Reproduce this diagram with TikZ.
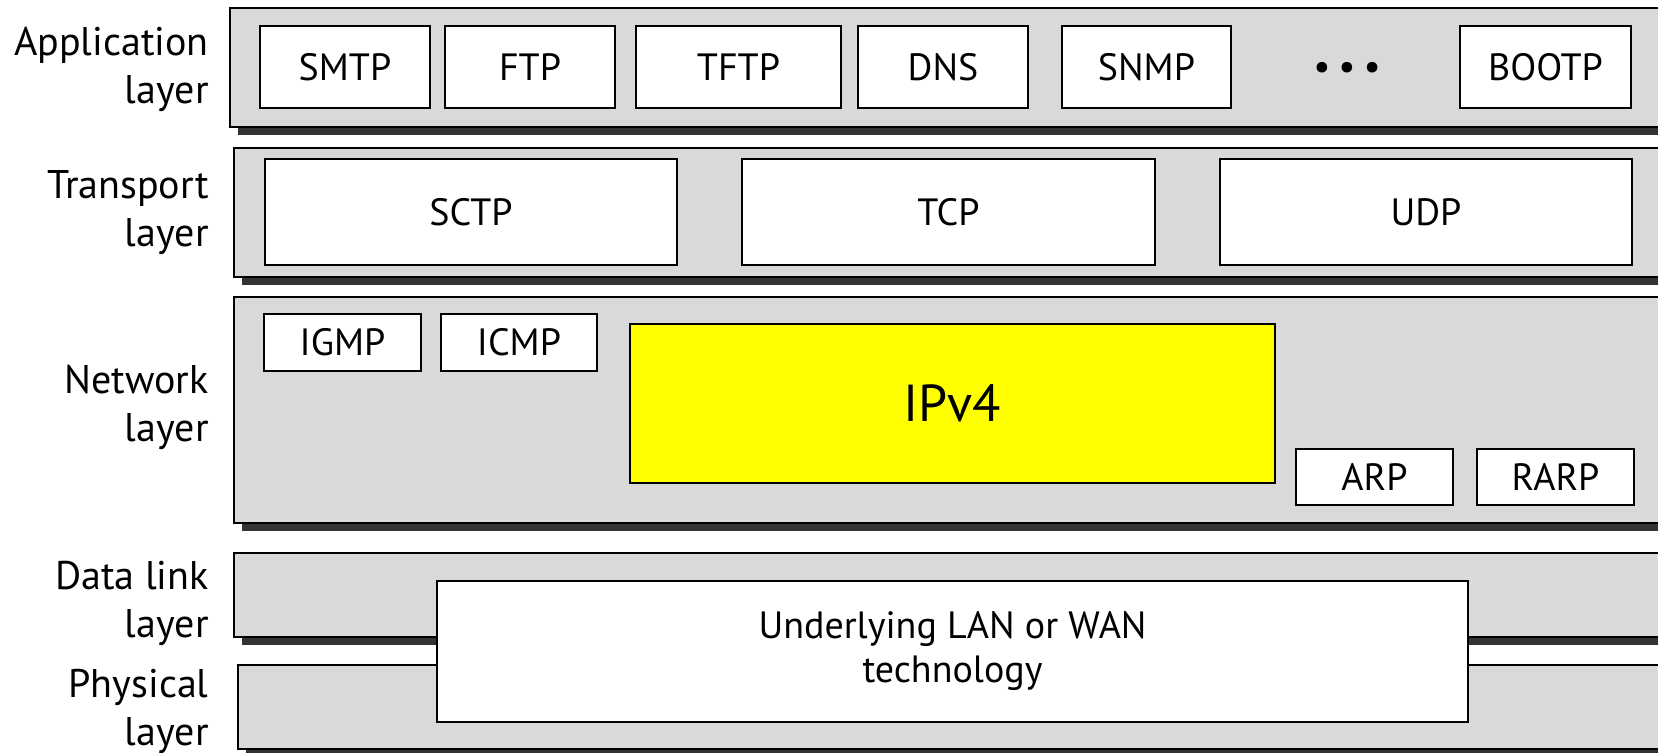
\documentclass[tikz,border=0pt]{standalone}
\usepackage{fontspec}
\setmainfont{PT Sans}
\usetikzlibrary{shadows}
\definecolor{layergray}{HTML}{D9D9D9}
\definecolor{shadowgray}{HTML}{333333}
\definecolor{ipyellow}{HTML}{FFFF00}
\tikzset{
  layer/.style={draw, fill=layergray, line width=1.1pt, inner sep=0pt, outer sep=0pt,
    drop shadow={shadow xshift=4pt, shadow yshift=-4pt, fill=shadowgray, opacity=1}},
  proto/.style={draw, fill=white, line width=1.2pt, inner sep=0pt, outer sep=0pt,
    align=center, font=\fontsize{19}{22}\selectfont},
  ipbox/.style={proto, fill=ipyellow, font=\fontsize{26}{30}\selectfont},
  layername/.style={anchor=east, align=right, inner sep=0pt, font=\fontsize{20}{24}\selectfont}
}
% style, name, x1, y1, x2, y2 (pixels, y down), text
\newcommand{\boxnode}[7]{%
  \node[#1, minimum width={(#5-#3)*0.5pt}, minimum height={(#6-#4)*0.5pt}]
    (#2) at ({(#3+#5)/2},{(#4+#6)/2}) {#7};}

\begin{document}
\begin{tikzpicture}[x=0.5pt, y=-0.5pt]
  \clip (0,0) rectangle (1658,753);

  % layers
  \boxnode{layer}{app}{230}{8}{1700}{127}{}
  \boxnode{layer}{trans}{234}{148}{1700}{277}{}
  \boxnode{layer}{net}{234}{297}{1700}{523}{}
  \boxnode{layer}{dlink}{234}{553}{1700}{637}{}
  \boxnode{layer}{phys}{238}{665}{1700}{749}{}

  \node[layername] (appname) at (209,69) {Application\\layer};
  \node[layername] (transname) at (209,213) {Transport\\layer};
  \node[layername] (netname) at (209,407) {Network\\layer};
  \node[layername] (dlinkname) at (209,603) {Data link\\layer};
  \node[layername] (physname) at (209,711) {Physical\\layer};

  % application layer
  \boxnode{proto}{smtp}{260}{26}{430}{108}{SMTP}
  \boxnode{proto}{ftp}{445}{26}{615}{108}{FTP}
  \boxnode{proto}{tftp}{636}{26}{841}{108}{TFTP}
  \boxnode{proto}{dns}{858}{26}{1028}{108}{DNS}
  \boxnode{proto}{snmp}{1062}{26}{1231}{108}{SNMP}
  \node[font=\fontsize{19}{22}\selectfont] (dots) at (1347,71) {\textbullet\hspace{4pt}\textbullet\hspace{4pt}\textbullet};
  \boxnode{proto}{bootp}{1460}{26}{1631}{108}{BOOTP}

  % transport layer
  \boxnode{proto}{sctp}{265}{159}{677}{265}{SCTP}
  \boxnode{proto}{tcp}{742}{159}{1155}{265}{TCP}
  \boxnode{proto}{udp}{1220}{159}{1632}{265}{UDP}

  % network layer
  \boxnode{proto}{igmp}{264}{314}{421}{371}{IGMP}
  \boxnode{proto}{icmp}{441}{314}{597}{371}{ICMP}
  \boxnode{ipbox}{ipv4}{630}{324}{1275}{483}{IPv4}
  \boxnode{proto}{arp}{1296}{449}{1453}{505}{ARP}
  \boxnode{proto}{rarp}{1477}{449}{1634}{505}{RARP}

  % data link + physical
  \boxnode{proto}{lanwan}{437}{581}{1468}{722}{Underlying LAN or WAN\\technology}
\end{tikzpicture}
\end{document}
